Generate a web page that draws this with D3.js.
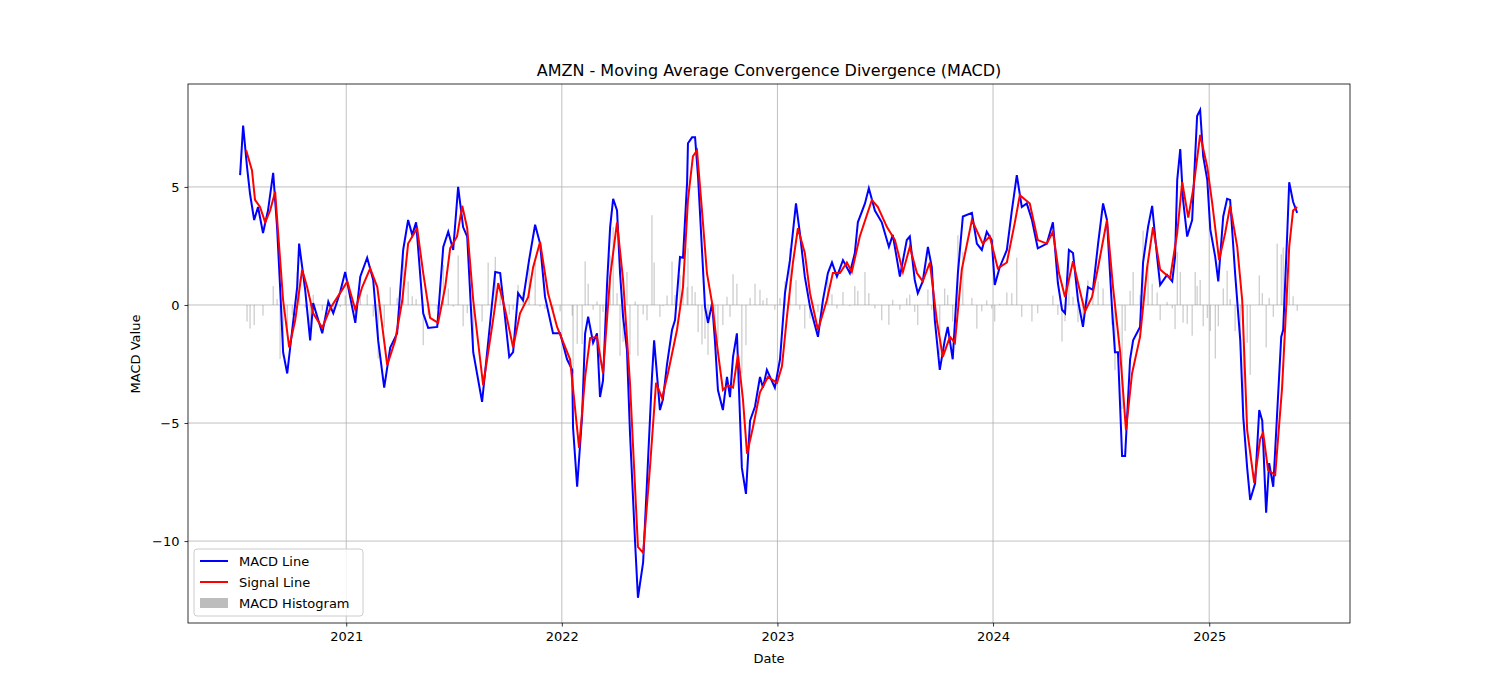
<!DOCTYPE html>
<html><head><meta charset="utf-8">
<script src="https://cdn.jsdelivr.net/npm/d3@7"></script>
<style>body{margin:0;background:#fff}text{font-family:"DejaVu Sans",sans-serif}</style>
</head><body><svg id="c" width="1500" height="700"></svg>
<script>
// dates as decimal years
const macdT = [2020.509,2020.523,2020.541,2020.555,2020.574,2020.592,2020.615,2020.638,2020.662,2020.680,2020.694,2020.708,2020.727,2020.750,2020.773,2020.782,2020.810,2020.833,2020.847,2020.889,2020.917,2020.940,2020.972,2020.995,
2021.042,2021.065,2021.097,2021.125,2021.148,2021.176,2021.204,2021.236,2021.264,2021.287,2021.306,2021.324,2021.357,2021.380,2021.422,2021.450,2021.473,2021.496,2021.519,2021.542,2021.561,2021.589,2021.630,2021.658,2021.691,2021.714,2021.728,2021.756,2021.774,2021.797,2021.820,2021.848,2021.876,2021.899,2021.922,2021.959,2021.992,
2022.024,2022.048,2022.052,2022.071,2022.094,2022.108,2022.122,2022.145,2022.163,2022.177,2022.191,2022.210,2022.224,2022.238,2022.256,2022.270,2022.284,2022.302,2022.316,2022.340,2022.353,2022.377,2022.395,2022.418,2022.428,2022.455,2022.469,2022.488,2022.511,2022.525,2022.548,2022.562,2022.581,2022.585,2022.604,2022.618,2022.632,2022.650,2022.664,2022.678,2022.697,2022.710,2022.724,2022.747,2022.766,2022.780,2022.794,2022.812,2022.835,2022.854,2022.873,2022.896,2022.919,2022.933,2022.951,2022.988,
2023.012,2023.035,2023.058,2023.086,2023.104,2023.127,2023.151,2023.188,2023.211,2023.234,2023.253,2023.276,2023.304,2023.336,2023.359,2023.373,2023.406,2023.424,2023.452,2023.484,2023.517,2023.535,2023.568,2023.600,2023.614,2023.637,2023.651,2023.674,2023.698,2023.716,2023.730,2023.753,2023.776,2023.790,2023.813,2023.837,2023.860,2023.902,2023.925,2023.948,2023.971,2023.994,
2024.008,2024.031,2024.064,2024.087,2024.110,2024.133,2024.156,2024.180,2024.207,2024.249,2024.277,2024.300,2024.319,2024.333,2024.351,2024.370,2024.393,2024.416,2024.439,2024.462,2024.486,2024.509,2024.527,2024.550,2024.564,2024.578,2024.597,2024.611,2024.634,2024.648,2024.680,2024.694,2024.717,2024.736,2024.759,2024.773,2024.805,2024.829,2024.842,2024.852,2024.866,2024.879,2024.898,2024.921,2024.935,2024.944,2024.958,2024.972,2024.991,
2025.005,2025.028,2025.042,2025.065,2025.083,2025.097,2025.120,2025.144,2025.158,2025.176,2025.190,2025.213,2025.232,2025.246,2025.264,2025.278,2025.297,2025.315,2025.334,2025.343,2025.362,2025.371,2025.389,2025.408];
const macdV = [5.5,7.6,5.85,4.7,3.6,4.15,3.05,4.0,5.6,3.3,0.76,-2.0,-2.9,-1.06,0.76,2.6,0.64,-1.5,0.08,-1.2,0.13,-0.35,0.55,1.4,
-0.76,1.2,2.0,1.06,-1.5,-3.5,-1.8,-1.2,2.33,3.6,2.97,3.5,-0.35,-0.97,-0.93,2.46,3.1,2.33,5.0,3.3,2.9,-2.0,-4.1,-1.6,1.4,1.35,0.2,-2.2,-2.0,0.5,0.2,1.9,3.4,2.6,0.34,-1.2,-1.2,
-2.3,-2.75,-5.2,-7.7,-4.7,-1.2,-0.5,-1.6,-1.2,-3.9,-3.2,0.93,3.3,4.5,4.0,1.35,-0.5,-1.9,-5.4,-10.1,-12.4,-10.9,-7.5,-3.05,-1.5,-4.45,-4.0,-2.5,-1.06,-0.64,2.03,2.0,5.2,6.85,7.1,7.1,5.4,2.33,-0.08,-0.76,0.08,-1.5,-3.6,-4.45,-3.05,-3.9,-2.2,-1.2,-6.9,-8.0,-4.9,-4.3,-3.05,-3.5,-2.75,-3.5,
-2.3,0.5,1.9,4.3,3.05,1.2,-0.08,-1.35,0.2,1.35,1.8,1.2,1.9,1.35,2.2,3.5,4.3,4.95,4.0,3.5,2.46,2.97,1.2,2.75,2.9,1.06,0.5,1.0,2.46,1.6,-0.64,-2.75,-1.5,-0.93,-2.3,1.35,3.75,3.9,2.6,2.33,3.1,2.75,
0.85,1.6,2.33,4.0,5.5,4.15,4.3,3.6,2.4,2.6,3.5,0.93,-0.2,-0.35,2.33,2.2,0.2,-0.93,0.76,0.64,2.6,4.3,3.6,-0.08,-2.0,-2.0,-6.4,-6.4,-2.3,-1.5,-0.93,1.8,3.3,4.2,2.03,0.85,1.27,1.0,2.03,5.3,6.6,4.45,2.9,3.6,6.3,8.0,8.26,6.3,5.3,
3.2,2.03,1.0,3.75,4.5,4.45,1.35,-1.5,-4.75,-6.9,-8.26,-7.55,-4.45,-4.9,-8.8,-6.7,-7.7,-4.6,-1.35,-1.06,3.05,5.2,4.37,3.9];

const sigT = [2020.537,2020.564,2020.578,2020.601,2020.625,2020.648,2020.671,2020.685,2020.708,2020.736,2020.764,2020.796,2020.819,2020.847,2020.889,2020.926,2020.981,
2021.005,2021.042,2021.074,2021.111,2021.144,2021.190,2021.227,2021.260,2021.287,2021.329,2021.357,2021.389,2021.426,2021.459,2021.482,2021.514,2021.538,2021.561,2021.589,2021.635,2021.681,2021.705,2021.737,2021.774,2021.806,2021.844,2021.867,2021.899,2021.936,2021.978,
2022.038,2022.080,2022.108,2022.131,2022.163,2022.191,2022.224,2022.256,2022.284,2022.316,2022.353,2022.377,2022.409,2022.437,2022.465,2022.492,2022.534,2022.562,2022.585,2022.608,2022.627,2022.650,2022.673,2022.697,2022.724,2022.747,2022.771,2022.794,2022.817,2022.840,2022.859,2022.886,2022.919,2022.956,2022.998,
2023.021,2023.044,2023.072,2023.095,2023.127,2023.151,2023.188,2023.229,2023.257,2023.290,2023.322,2023.345,2023.382,2023.438,2023.466,2023.508,2023.545,2023.582,2023.614,2023.647,2023.674,2023.707,2023.739,2023.767,2023.800,2023.823,2023.855,2023.902,2023.952,2023.985,
2024.022,2024.064,2024.101,2024.124,2024.170,2024.207,2024.249,2024.277,2024.305,2024.333,2024.370,2024.393,2024.425,2024.458,2024.486,2024.527,2024.555,2024.588,2024.615,2024.643,2024.680,2024.713,2024.740,2024.773,2024.819,2024.852,2024.875,2024.903,2024.926,2024.958,2024.991,
2025.014,2025.046,2025.074,2025.097,2025.130,2025.153,2025.176,2025.209,2025.236,2025.250,2025.273,2025.306,2025.338,2025.371,2025.389,2025.408];
const sigV = [6.55,5.7,4.45,4.15,3.5,4.0,4.8,3.05,0.2,-1.8,-0.64,1.5,0.76,-0.35,-0.97,-0.14,0.64,
1.0,-0.2,0.76,1.55,0.76,-2.55,-1.5,0.2,2.6,3.25,1.35,-0.55,-0.76,0.76,2.4,2.9,4.2,3.25,0.2,-3.4,-0.64,0.93,-0.2,-1.8,-0.35,0.34,1.6,2.67,0.5,-0.93,
-2.3,-6.05,-3.05,-1.4,-1.35,-2.9,1.2,3.5,1.06,-3.3,-10.25,-10.5,-6.85,-3.3,-3.95,-2.9,-1.06,0.76,4.45,6.3,6.55,4.0,1.35,0.08,-2.0,-3.6,-3.4,-3.5,-2.1,-4.0,-6.3,-5.2,-3.7,-3.05,-3.3,
-2.6,-0.5,1.8,3.25,2.2,0.5,-1.06,0.2,1.35,1.35,1.8,1.4,2.9,4.45,4.15,3.3,2.75,1.4,2.46,1.35,1.0,1.8,-0.64,-2.2,-1.35,-1.6,1.5,3.6,2.6,2.9,
1.55,1.8,3.5,4.65,4.3,2.75,2.6,3.1,1.35,0.34,1.85,0.93,-0.28,0.34,1.6,3.6,0.76,-2.0,-5.3,-2.9,-1.35,1.6,3.3,1.5,1.14,3.05,5.2,3.7,4.9,7.2,5.85,
4.3,1.9,3.05,4.2,2.46,0.2,-5.3,-7.55,-5.7,-5.4,-7.0,-7.2,-3.5,2.46,4.0,4.15];
const yTicks = [-10, -5, 0, 5];
const xTickYears = [2021, 2022, 2023, 2024, 2025];

const yr = t => { const y = Math.floor(t); const a = Date.UTC(y,0,1), b = Date.UTC(y+1,0,1); return new Date(a + (t-y)*(b-a)); };
const macd = macdT.map((t,i) => ({d: yr(t), v: macdV[i]}));
const sig = sigT.map((t,i) => ({d: yr(t), v: sigV[i]}));
// histogram = MACD minus signal at each MACD sample
const bis = d3.bisector(d => d.d).left;
const hist = macd.filter(p => p.d >= sig[0].d).map(p => {
  let i = Math.min(bis(sig, p.d), sig.length-1);
  const s = (i > 0 && Math.abs(sig[i-1].d - p.d) < Math.abs(sig[i].d - p.d)) ? sig[i-1] : sig[i];
  return {d: p.d, v: p.v - s.v};
});

const L = 188, R = 1350, T = 84, B = 623;
const svg = d3.select("#c");
const x = d3.scaleUtc().domain([yr(2020.268), yr(2025.653)]).range([L, R]);
const y = d3.scaleLinear().domain([-13.47, 9.36]).range([B, T]);

// grid
svg.append("g").selectAll("line").data(xTickYears).join("line")
  .attr("x1", d => x(yr(d))).attr("x2", d => x(yr(d))).attr("y1", T).attr("y2", B)
  .attr("stroke", "#b0b0b0").attr("stroke-width", 0.8);
svg.append("g").selectAll("line").data(yTicks).join("line")
  .attr("x1", L).attr("x2", R).attr("y1", d => y(d)).attr("y2", d => y(d))
  .attr("stroke", "#b0b0b0").attr("stroke-width", 0.8);

// histogram
svg.append("g").selectAll("rect").data(hist).join("rect")
  .attr("x", d => x(d.d) - 0.5).attr("width", 1)
  .attr("y", d => y(Math.max(0, d.v))).attr("height", d => Math.abs(y(d.v) - y(0)))
  .attr("fill", "#808080").attr("opacity", 0.5);

const line = d3.line().x(d => x(d.d)).y(d => y(d.v));
svg.append("path").datum(macd).attr("d", line).attr("fill", "none").attr("stroke", "#0000ff").attr("stroke-width", 2);
svg.append("path").datum(sig).attr("d", line).attr("fill", "none").attr("stroke", "#ff0000").attr("stroke-width", 2);

// axes
const xa = svg.append("g").attr("transform", `translate(0,${B})`)
  .call(d3.axisBottom(x).tickValues(xTickYears.map(yr)).tickFormat(d3.utcFormat("%Y")).tickSize(3.5).tickPadding(5));
const ya = svg.append("g").attr("transform", `translate(${L},0)`)
  .call(d3.axisLeft(y).tickValues(yTicks).tickFormat(d => d < 0 ? "\u2212" + Math.abs(d) : d).tickSize(3.5).tickPadding(5));
[xa, ya].forEach(a => { a.select(".domain").remove(); a.selectAll("text").attr("font-size", 13).attr("fill", "#000"); a.selectAll("line").attr("stroke", "#000").attr("stroke-width", 0.8); });
svg.append("rect").attr("x", L).attr("y", T).attr("width", R-L).attr("height", B-T)
  .attr("fill", "none").attr("stroke", "#000").attr("stroke-width", 0.8);

svg.append("text").attr("x", (L+R)/2).attr("y", 76).attr("text-anchor", "middle").attr("font-size", 16).text("AMZN - Moving Average Convergence Divergence (MACD)");
svg.append("text").attr("x", (L+R)/2).attr("y", 663).attr("text-anchor", "middle").attr("font-size", 13).text("Date");
svg.append("text").attr("transform", "translate(140,354) rotate(-90)").attr("text-anchor", "middle").attr("font-size", 13).text("MACD Value");

// legend
const lg = svg.append("g").attr("transform", "translate(194,549)");
lg.append("rect").attr("width", 169).attr("height", 67).attr("rx", 3).attr("fill", "#fff").attr("fill-opacity", 0.8).attr("stroke", "#ccc");
const items = [["MACD Line", "#0000ff", "line"], ["Signal Line", "#ff0000", "line"], ["MACD Histogram", "#bdbdbd", "rect"]];
items.forEach((it, i) => {
  const cy = 12 + i * 21;
  if (it[2] === "line") lg.append("line").attr("x1", 6).attr("x2", 34).attr("y1", cy).attr("y2", cy).attr("stroke", it[1]).attr("stroke-width", 2);
  else lg.append("rect").attr("x", 6).attr("y", cy - 5).attr("width", 28).attr("height", 10).attr("fill", it[1]);
  lg.append("text").attr("x", 45).attr("y", cy + 5).attr("font-size", 13).text(it[0]);
});
</script></body></html>
